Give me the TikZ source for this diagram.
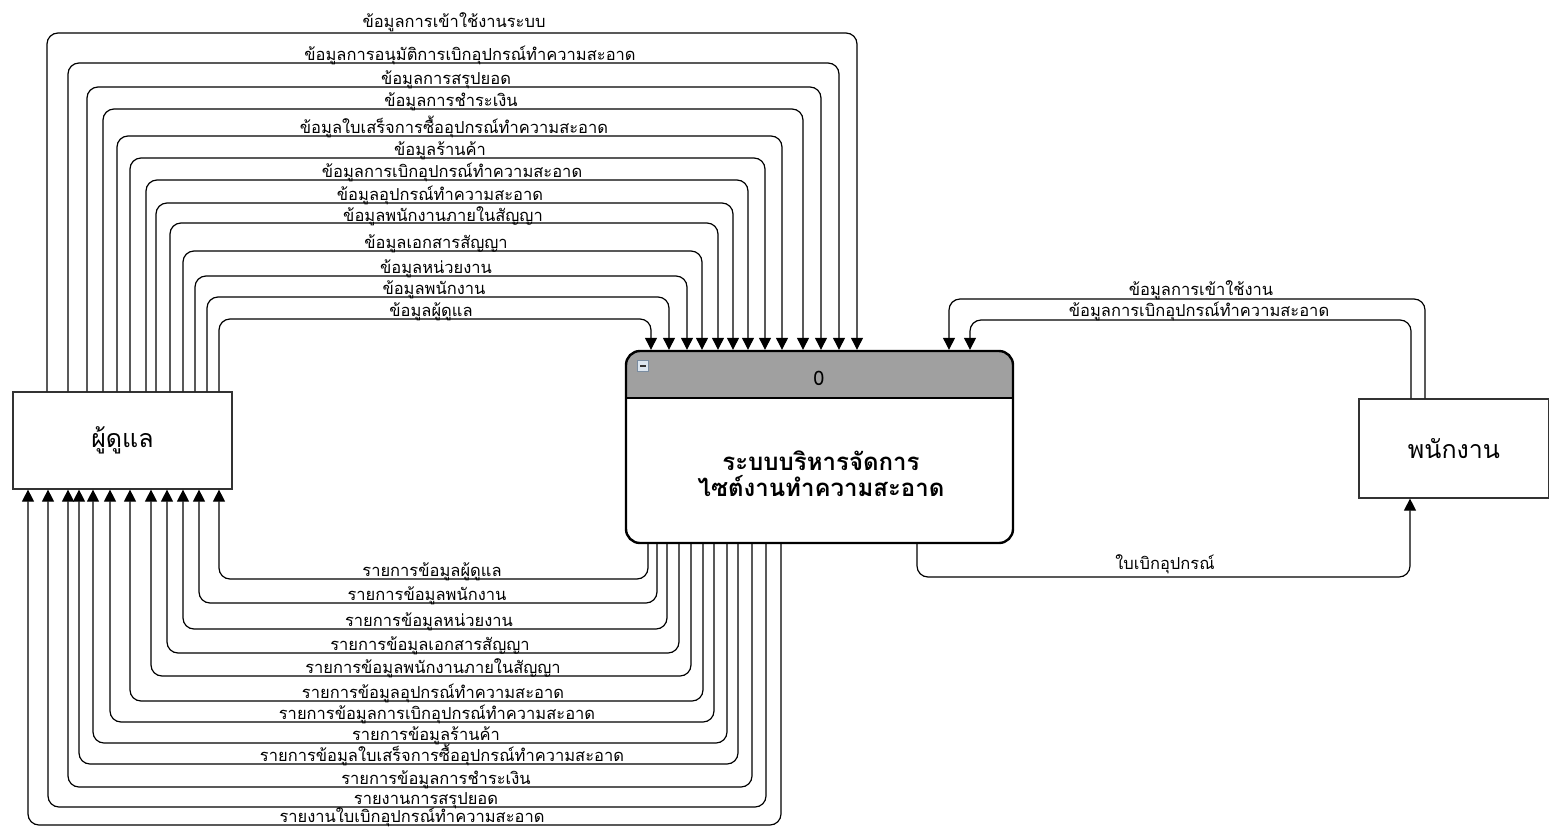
\documentclass[tikz,border=0pt]{standalone}
\usepackage{fontspec}
\newfontfamily\thaifont[Script=Thai]{Loma}
\usetikzlibrary{arrows.meta}
\definecolor{headgray}{HTML}{A0A0A0}
\definecolor{boxline}{HTML}{333333}
\definecolor{iconfill}{HTML}{DCE6F0}
\definecolor{iconline}{HTML}{7A8CA0}
\begin{document}
\begin{tikzpicture}[x=1pt,y=-1pt,
  ent/.style={draw=boxline, line width=1.2pt, fill=white, inner sep=0pt,
    font=\thaifont\fontsize{25}{30}\selectfont},
  flow/.style={line width=1.2pt, rounded corners=11pt,
    -{Triangle[length=12pt,width=12pt]}},
  lbl/.style={font=\thaifont\fontsize{16.5}{19}\selectfont, inner sep=0pt, anchor=base},
  procholder/.style={minimum width=387pt, minimum height=192pt, inner sep=0pt, outer sep=1.2pt},
  procline/.style={line width=2.4pt}
]
\useasboundingbox (0,0) rectangle (1549,828);

% entities
\node[ent, minimum width=219pt, minimum height=97pt] (adm) at (122.5,440.5) {ผู้ดูแล};
\node[ent, minimum width=190pt, minimum height=99pt] (emp) at (1454,448.5) {พนักงาน};

% process
\node[procholder] (p) at (819.5,447) {};
\fill[white, rounded corners=14pt] (626,351) rectangle (1013,543);
\begin{scope}
  \clip (620,345) rectangle (1020,398);
  \fill[headgray, rounded corners=14pt] (626,351) rectangle (1013,543);
\end{scope}
\draw[procline, rounded corners=14pt] (626,351) rectangle (1013,543);
\draw[procline] (626,398) -- (1013,398);
\node[draw=iconline, fill=iconfill, line width=0.8pt, minimum size=11pt, inner sep=0pt] (ic) at (643,366) {};
\draw[line width=1.6pt, black!80] ([xshift=-3pt]ic.center) -- ([xshift=3pt]ic.center);
\node[font=\thaifont\fontsize{20}{24}\selectfont, inner sep=0pt] (pid) at (819,378) {0};
\node[font=\thaifont\bfseries\fontsize{24}{26}\selectfont, align=center, inner sep=0pt] (pname) at (821,474) {ระบบบริหารจัดการ\\ไซต์งานทำความสะอาด};

% flows from admin to process (top)
\foreach \lx/\ly/\rx/\cx/\dy/\txt [count=\i] in {
  47/33/857/454/6/ข้อมูลการเข้าใช้งานระบบ,
  68/63/839/470/3/ข้อมูลการอนุมัติการเบิกอุปกรณ์ทำความสะอาด,
  87/87/821/446/3/ข้อมูลการสรุปยอด,
  103/109/803/451/3/ข้อมูลการชำระเงิน,
  117/136/782/454/3/ข้อมูลใบเสร็จการซื้ออุปกรณ์ทำความสะอาด,
  130/158/765/440/3/ข้อมูลร้านค้า,
  146/180/748/452/3/ข้อมูลการเบิกอุปกรณ์ทำความสะอาด,
  156/203/733/440/3/ข้อมูลอุปกรณ์ทำความสะอาด,
  170/223/718/443/2/ข้อมูลพนักงานภายในสัญญา,
  183/251/702/436/3/ข้อมูลเอกสารสัญญา,
  195/276/687/436/3/ข้อมูลหน่วยงาน,
  207/297/669/434/3/ข้อมูลพนักงาน,
  219/319/651/431/3/ข้อมูลผู้ดูแล} {
  \draw[flow] (adm.north -| \lx,0) |- (\rx,\ly) -- (p.north -| \rx,0);
  \node[lbl] (top\i) at (\cx,\ly-\dy) {\txt};
}

% flows from process to admin (bottom)
\foreach \rx/\ly/\lx/\cx/\txt [count=\i] in {
  648/579/219/432/รายการข้อมูลผู้ดูแล,
  657/603/199/427/รายการข้อมูลพนักงาน,
  667/629/183/429/รายการข้อมูลหน่วยงาน,
  679/653/167/430/รายการข้อมูลเอกสารสัญญา,
  691/676/151/433/รายการข้อมูลพนักงานภายในสัญญา,
  703/701/130/433/รายการข้อมูลอุปกรณ์ทำความสะอาด,
  714/722/110/437/รายการข้อมูลการเบิกอุปกรณ์ทำความสะอาด,
  727/743/93/426/รายการข้อมูลร้านค้า,
  738/764/79/442/รายการข้อมูลใบเสร็จการซื้ออุปกรณ์ทำความสะอาด,
  752/787/68/436/รายการข้อมูลการชำระเงิน,
  766/807/48/426/รายงานการสรุปยอด,
  781/825/28/412/รายงานใบเบิกอุปกรณ์ทำความสะอาด} {
  \draw[flow] (p.south -| \rx,0) |- (\lx,\ly) -- (adm.south -| \lx,0);
  \node[lbl] (bot\i) at (\cx,\ly-3) {\txt};
}

% flows with employee
\draw[flow] (emp.north -| 1425,0) |- (949,299) -- (p.north -| 949,0);
\node[lbl] (r1) at (1201,295) {ข้อมูลการเข้าใช้งาน};
\draw[flow] (emp.north -| 1411,0) |- (970,320) -- (p.north -| 970,0);
\node[lbl] (r2) at (1199,316) {ข้อมูลการเบิกอุปกรณ์ทำความสะอาด};
\draw[flow] (p.south -| 917,0) |- (1410,577) -- (emp.south -| 1410,0);
\node[lbl] (r3) at (1165,569) {ใบเบิกอุปกรณ์};
\end{tikzpicture}
\end{document}
